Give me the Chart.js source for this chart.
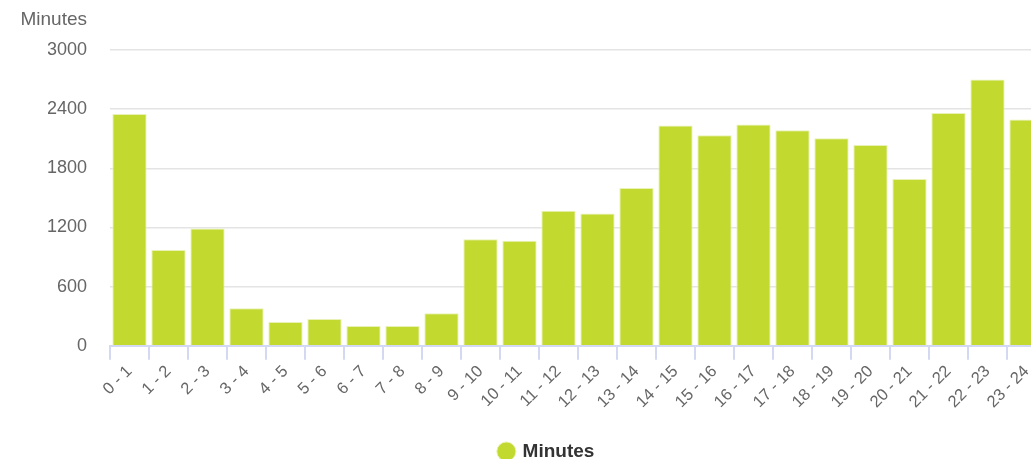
<!DOCTYPE html>
<html>
<head>
<meta charset="utf-8">
<script src="https://cdn.jsdelivr.net/npm/chart.js@4"></script>
<style>
  html, body { margin: 0; padding: 0; background: #fff; overflow: hidden; }
  #wrap { position: relative; width: 1046px; height: 471px; }
</style>
</head>
<body>
<div id="wrap"><canvas id="chart"></canvas></div>
<script>
// hour ranges on the x axis
const hours = [
  '0 - 1', '1 - 2', '2 - 3', '3 - 4', '4 - 5', '5 - 6', '6 - 7', '7 - 8',
  '8 - 9', '9 - 10', '10 - 11', '11 - 12', '12 - 13', '13 - 14', '14 - 15', '15 - 16',
  '16 - 17', '17 - 18', '18 - 19', '19 - 20', '20 - 21', '21 - 22', '22 - 23', '23 - 24'
];

// minutes per hour range
const minutes = [
  2350, 970, 1190, 380, 240, 270, 200, 200,
  330, 1080, 1065, 1370, 1340, 1600, 2235, 2135,
  2245, 2185, 2105, 2035, 1690, 2360, 2700, 2295
];

const seriesLabel = 'Minutes';
const yTitle = 'Minutes';
const yMax = 3000;
const yStep = 600;

const green = '#c2d930';
const textGrey = '#666';

// draws the "Minutes" caption above the y ticks
const yCaption = {
  id: 'yCaption',
  afterDraw(chart) {
    const y = chart.scales.y;
    const ctx = chart.ctx;
    ctx.save();
    ctx.font = '19px "Liberation Sans", Arial, sans-serif';
    ctx.fillStyle = textGrey;
    ctx.textAlign = 'right';
    ctx.textBaseline = 'alphabetic';
    ctx.fillText(yTitle, y.right - 23, 25);
    ctx.restore();
  }
};

Chart.defaults.font.family = '"Liberation Sans", Arial, sans-serif';

new Chart(document.getElementById('chart'), {
  type: 'bar',
  data: {
    labels: hours,
    datasets: [{
      label: seriesLabel,
      data: minutes,
      backgroundColor: green,
      borderColor: '#e9f2b4',
      borderWidth: 1,
      barPercentage: 0.88,
      categoryPercentage: 1
    }]
  },
  options: {
    responsive: true,
    maintainAspectRatio: false,
    animation: false,
    // left padding keeps the legend centred where the original has it
    layout: { padding: { top: 50, left: 48, right: 0, bottom: 0 } },
    plugins: {
      legend: {
        position: 'bottom',
        labels: {
          usePointStyle: true,
          pointStyle: 'circle',
          boxWidth: 13.5,
          boxHeight: 13.5,
          padding: 10,
          color: '#333',
          font: { size: 19, weight: 'bold' }
        }
      },
      tooltip: { enabled: false }
    },
    scales: {
      x: {
        afterFit(scale) { scale.height += 18; },
        grid: {
          display: true,
          drawOnChartArea: false,
          offset: true,
          tickLength: 14,
          color: '#d3d9f2',
          lineWidth: 2
        },
        border: { display: true, color: '#d3d9f2', width: 2 },
        ticks: {
          color: textGrey,
          font: { size: 16.5 },
          autoSkip: false,
          minRotation: 45,
          maxRotation: 45,
          padding: 2
        }
      },
      y: {
        min: 0,
        max: yMax,
        afterFit(scale) { scale.width = 62; },
        grid: { color: '#e4e4e4', lineWidth: 1.5, drawTicks: false },
        border: { display: false },
        ticks: {
          stepSize: yStep,
          color: textGrey,
          font: { size: 18 },
          padding: 23,
          callback: v => String(v)
        }
      }
    }
  },
  plugins: [yCaption]
});
</script>
</body>
</html>
